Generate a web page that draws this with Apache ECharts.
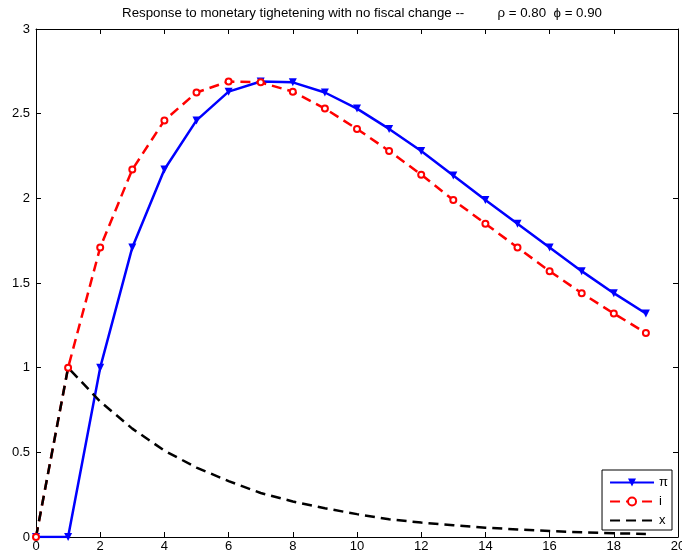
<!DOCTYPE html>
<html>
<head>
<meta charset="utf-8">
<script src="https://cdn.jsdelivr.net/npm/echarts@6/dist/echarts.min.js"></script>
<style>
  html, body { margin: 0; padding: 0; background: #fff; }
  #chart { width: 682px; height: 556px; }
</style>
</head>
<body>
<div id="chart"></div>
<script>
// periods 0..19
const periods = [0, 1, 2, 3, 4, 5, 6, 7, 8, 9, 10, 11, 12, 13, 14, 15, 16, 17, 18, 19]
// inflation
const piValues = [0, 0, 1.0, 1.71, 2.17, 2.46, 2.63, 2.69, 2.685, 2.625, 2.53, 2.41, 2.28, 2.135, 1.99, 1.85, 1.71, 1.57, 1.44, 1.32]
// interest rate
const iValues = [0, 1.0, 1.71, 2.17, 2.46, 2.625, 2.69, 2.685, 2.63, 2.53, 2.41, 2.28, 2.14, 1.99, 1.85, 1.71, 1.57, 1.44, 1.32, 1.205]
// output gap
const xValues = [0, 1.0, 0.80, 0.64, 0.51, 0.41, 0.33, 0.26, 0.21, 0.17, 0.135, 0.105, 0.085, 0.07, 0.055, 0.045, 0.035, 0.028, 0.022, 0.018]

const font = 'Liberation Sans, Arial, sans-serif'

function pairs(vals) {
  return periods.map((p, k) => [p, vals[k]])
}

// box axes: no onZero, ticks pointing in
function boxAxis(extra) {
  return Object.assign({
    type: 'value',
    axisLine: { show: true, onZero: false, lineStyle: { color: '#000', width: 1 } },
    axisTick: { show: true, inside: true, length: 5, lineStyle: { color: '#000' } },
    splitLine: { show: false },
  }, extra)
}

let mychart = echarts.init(document.getElementById('chart'))

let option = {
  animation: false,
  title: {
    text: 'Response to monetary tighetening with no fiscal change --         \u03c1 = 0.80  \u03d5 = 0.90',
    left: 357,
    textAlign: 'center',
    top: 2,
    textStyle: { fontFamily: font, fontSize: 13.3, fontWeight: 'normal', color: '#000' },
  },
  legend: {
    orient: 'vertical',
    right: 10,
    top: 470,
    backgroundColor: '#fff',
    borderColor: '#000',
    borderWidth: 1,
    borderRadius: 0,
    padding: [6, 4, 3, 7],
    itemWidth: 44,
    itemHeight: 10,
    itemGap: 6,
    textStyle: { fontFamily: font, fontSize: 13, color: '#000' },
    data: ['\u03c0', 'i', 'x'],
  },
  grid: {
    left: 36,
    right: 4,
    top: 29,
    bottom: 19,
    outerBoundsMode: 'none',
    containLabel: false,
  },
  xAxis: [
    boxAxis({
      min: 0,
      max: 20,
      interval: 2,
      axisLabel: { color: '#000', fontFamily: font, fontSize: 13, margin: 3 },
    }),
    boxAxis({
      position: 'top',
      min: 0,
      max: 20,
      interval: 2,
      axisLabel: { show: false },
    }),
  ],
  yAxis: [
    boxAxis({
      min: 0,
      max: 3,
      interval: 0.5,
      axisLabel: { color: '#000', fontFamily: font, fontSize: 13, margin: 6 },
    }),
    boxAxis({
      position: 'right',
      min: 0,
      max: 3,
      interval: 0.5,
      axisLabel: { show: false },
    }),
  ],
  series: [
    {
      name: '\u03c0',
      type: 'line',
      data: pairs(piValues),
      symbol: 'triangle',
      symbolRotate: 180,
      symbolSize: 8,
      showAllSymbol: true,
      lineStyle: { color: '#0000ff', width: 2.5 },
      itemStyle: { color: '#0000ff' },
    },
    {
      name: 'i',
      type: 'line',
      data: pairs(iValues),
      symbol: 'emptyCircle',
      symbolSize: 6,
      showAllSymbol: true,
      lineStyle: { color: '#ff0000', width: 2.5, type: [10, 6] },
      itemStyle: { color: '#ff0000', borderWidth: 2.5 },
    },
    {
      name: 'x',
      type: 'line',
      data: pairs(xValues),
      showSymbol: false,
      symbol: 'circle',
      lineStyle: { color: '#000', width: 2.5, type: [10, 6] },
      itemStyle: { color: 'rgba(0,0,0,0)', borderColor: 'rgba(0,0,0,0)' },
    },
  ],
}

mychart.setOption(option)
</script>
</body>
</html>
